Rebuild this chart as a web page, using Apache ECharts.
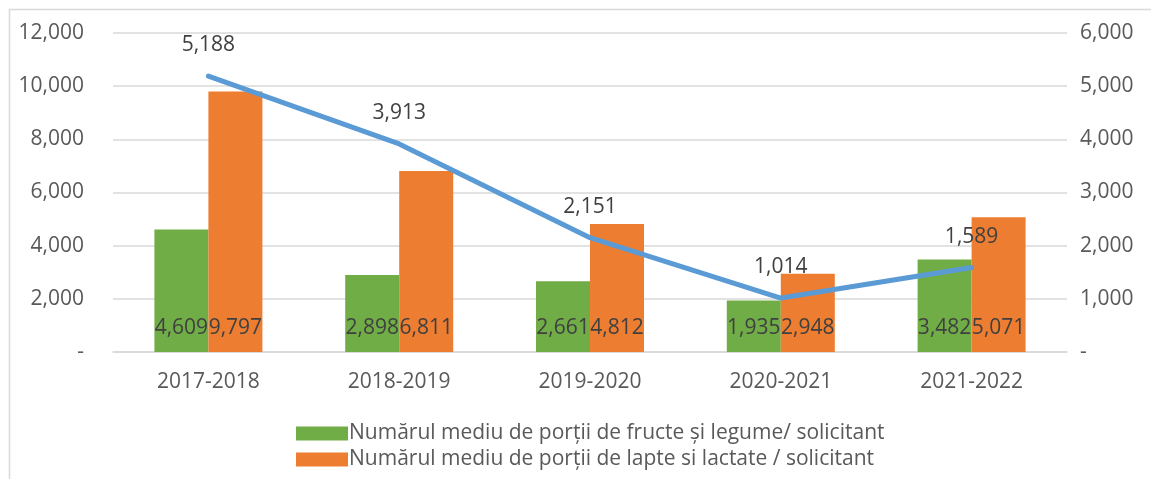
<!DOCTYPE html>
<html>
<head>
<meta charset="utf-8">
<script src="https://cdn.jsdelivr.net/npm/echarts@6/dist/echarts.min.js"></script>
<style>
  html, body { margin: 0; padding: 0; background: #fff; }
  #chart { width: 1151px; height: 479px; }
</style>
</head>
<body>
<div id="chart"></div>
<script>
// date
const categories = ['2017-2018', '2018-2019', '2019-2020', '2020-2021', '2021-2022']
const fructeLegume = [4609, 2898, 2661, 1935, 3482]
const lapteLactate = [9797, 6811, 4812, 2948, 5071]
const medieTotal = [5188, 3913, 2151, 1014, 1589]
const leftTicks = [0, 2000, 4000, 6000, 8000, 10000, 12000]
const rightTicks = [0, 1000, 2000, 3000, 4000, 5000, 6000]

const numeFructe = 'Numărul mediu de porții de fructe și legume/ solicitant'
const numeLapte = 'Numărul mediu de porții de lapte si lactate / solicitant'

const FONT = '"Open Sans", sans-serif'

function fmt(v) {
  if (v === 0) return '-'
  return v.toLocaleString('en-US')
}

const chart = echarts.init(document.getElementById('chart'))

chart.setOption({
  animation: false,
  textStyle: { fontFamily: FONT },
  graphic: [{
    type: 'rect',
    shape: { x: 9.5, y: 9.5, width: 1200, height: 520 },
    style: { fill: 'none', stroke: '#D9D9D9', lineWidth: 1.5 },
    silent: true
  }],
  grid: {
    left: 113,
    right: 84,
    top: 33,
    bottom: 127
  },
  legend: {
    data: [numeFructe, numeLapte],
    orient: 'vertical',
    left: 291,
    top: 418,
    itemWidth: 52,
    itemHeight: 14,
    itemGap: 5,
    icon: 'rect',
    textStyle: {
      fontFamily: FONT,
      fontSize: 21,
      color: '#595959',
      padding: [0, 0, 0, -4]
    }
  },
  xAxis: {
    type: 'category',
    data: categories,
    axisLine: { lineStyle: { color: '#D9D9D9', width: 1.5 } },
    axisTick: { show: false },
    axisLabel: {
      fontFamily: FONT,
      fontSize: 21,
      color: '#595959',
      margin: 20
    }
  },
  yAxis: [
    {
      type: 'value',
      min: leftTicks[0],
      max: leftTicks[leftTicks.length - 1],
      interval: 2000,
      axisLine: { show: false },
      axisTick: { show: false },
      splitLine: { lineStyle: { color: '#D9D9D9', width: 1.5 } },
      axisLabel: {
        fontFamily: FONT,
        fontSize: 21,
        color: '#595959',
        margin: 29,
        formatter: fmt
      }
    },
    {
      type: 'value',
      min: rightTicks[0],
      max: rightTicks[rightTicks.length - 1],
      interval: 1000,
      axisLine: { show: false },
      axisTick: { show: false },
      splitLine: { show: false },
      axisLabel: {
        fontFamily: FONT,
        fontSize: 21,
        color: '#595959',
        margin: 13,
        formatter: fmt
      }
    }
  ],
  series: [
    {
      name: numeFructe,
      type: 'bar',
      data: fructeLegume,
      barWidth: 54,
      barGap: '0%',
      itemStyle: { color: '#70AD47' },
      label: {
        show: true,
        position: 'insideBottom',
        distance: 13,
        fontFamily: FONT,
        fontSize: 21,
        color: '#404040',
        formatter: p => fmt(p.value)
      }
    },
    {
      name: numeLapte,
      type: 'bar',
      data: lapteLactate,
      barWidth: 54,
      barGap: '0%',
      itemStyle: { color: '#ED7D31' },
      label: {
        show: true,
        position: 'insideBottom',
        distance: 13,
        fontFamily: FONT,
        fontSize: 21,
        color: '#404040',
        formatter: p => fmt(p.value)
      }
    },
    {
      name: 'medie',
      type: 'line',
      yAxisIndex: 1,
      data: medieTotal,
      symbol: 'circle',
      symbolSize: 1,
      lineStyle: { color: '#5B9BD5', width: 5, cap: 'round' },
      itemStyle: { color: '#5B9BD5' },
      label: {
        show: true,
        position: 'top',
        distance: 20,
        fontFamily: FONT,
        fontSize: 21,
        color: '#404040',
        formatter: p => fmt(p.value)
      },
      z: 5
    }
  ]
})
</script>
</body>
</html>
